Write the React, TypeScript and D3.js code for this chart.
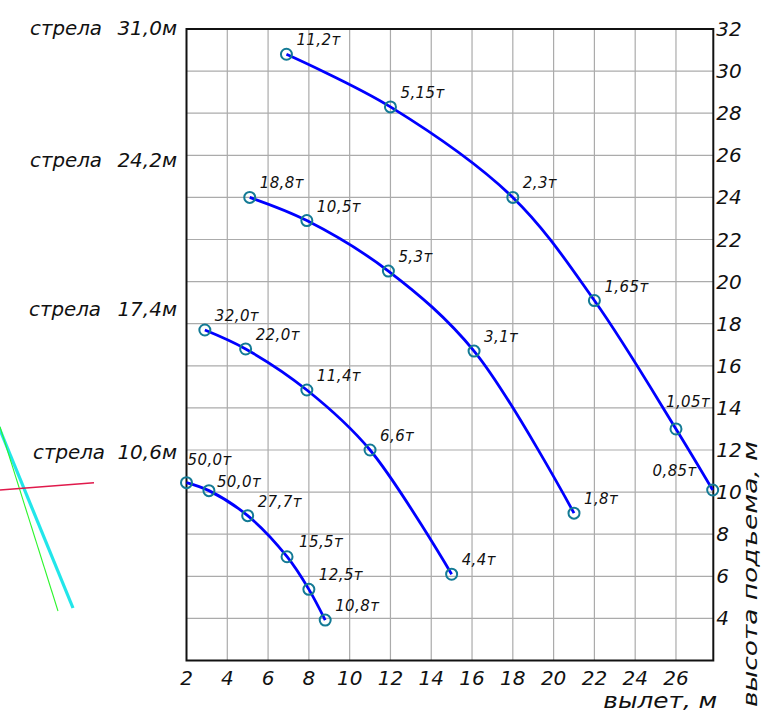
import React from "react";
import * as d3 from "d3";

// ---- data ----
const boomNames = ["стрела", "стрела", "стрела", "стрела"];
const boomLengths = ["31,0м", "24,2м", "17,4м", "10,6м"];

const reachA = [6.9, 12.0, 18.0, 22.0, 26.0, 27.8];
const heightA = [30.8, 28.3, 24.0, 19.1, 13.0, 10.1];
const loadA = ["11,2т", "5,15т", "2,3т", "1,65т", "1,05т", "0,85т"];

const reachB = [5.1, 7.9, 11.9, 16.1, 21.0];
const heightB = [24.0, 22.9, 20.5, 16.7, 9.0];
const loadB = ["18,8т", "10,5т", "5,3т", "3,1т", "1,8т"];

const reachC = [2.9, 4.9, 7.9, 11.0, 15.0];
const heightC = [17.7, 16.8, 14.85, 12.0, 6.1];
const loadC = ["32,0т", "22,0т", "11,4т", "6,6т", "4,4т"];

const reachD = [2.0, 3.1, 5.0, 6.93, 8.0, 8.8];
const heightD = [10.45, 10.07, 8.88, 6.93, 5.38, 3.92];
const loadD = ["50,0т", "50,0т", "27,7т", "15,5т", "12,5т", "10,8т"];

const xTicks = [2, 4, 6, 8, 10, 12, 14, 16, 18, 20, 22, 24, 26];
const yTicks = [4, 6, 8, 10, 12, 14, 16, 18, 20, 22, 24, 26, 28, 30, 32];
const xTitle = "вылет,  м";
const yTitle = "высота  подъема,  м";

// ---- layout / style ----
const W = 763;
const H = 712;
const left = 186.5;
const right = 713.3;
const top = 29;
const bottom = 660.5;
const FONT = "'DejaVu Sans', sans-serif";
const LINE = "#0000ff";
const MARK = "#137a95";
const GRID = "#ababab";

// label offsets (dx, dy) per series/point; default is (+10, -9)
const labelOffsets: Record<string, [number, number, string?]> = {
  "0-4": [-10, -22],
  "0-5": [-16, -14, "end"],
  "3-0": [1, -18],
  "3-1": [8, -4],
  "3-3": [12, -10],
};
const boomLabelY = [35, 167, 316, 459];
const boomNameX = [30, 30, 29, 33];

export default function App() {
  const x = d3.scaleLinear().domain([2, 27.83]).range([left, right]);
  const y = d3.scaleLinear().domain([2, 32]).range([bottom, top]);

  const series = [
    { xs: reachA, ys: heightA, loads: loadA },
    { xs: reachB, ys: heightB, loads: loadB },
    { xs: reachC, ys: heightC, loads: loadC },
    { xs: reachD, ys: heightD, loads: loadD },
  ];

  const line = d3
    .line<[number, number]>()
    .x((d) => x(d[0]))
    .y((d) => y(d[1]))
    .curve(d3.curveCatmullRom.alpha(0.5));

  const gridX = d3.range(4, 27, 2);
  const gridY = d3.range(4, 32, 2);

  return (
    <svg
      width={W}
      height={H}
      viewBox={`0 0 ${W} ${H}`}
      style={{ position: "absolute", left: 0, top: 0, display: "block", background: "#fff" }}
    >
      <rect x={0} y={0} width={W} height={H} fill="#fff" />

      {/* decorative construction lines on the left */}
      <line x1={-2} y1={425} x2={73} y2={608} stroke="#22e6ea" strokeWidth={3.2} />
      <line x1={0} y1={427} x2={58} y2={611} stroke="#2cf52c" strokeWidth={1.1} />
      <line x1={0} y1={490} x2={94} y2={482.7} stroke="#e0194b" strokeWidth={1.6} />

      {/* grid */}
      {gridX.map((v) => (
        <line key={"gx" + v} x1={x(v)} x2={x(v)} y1={top} y2={bottom} stroke={GRID} strokeWidth={1.2} />
      ))}
      {gridY.map((v) => (
        <line key={"gy" + v} x1={left} x2={right} y1={y(v)} y2={y(v)} stroke={GRID} strokeWidth={1.2} />
      ))}

      {/* frame */}
      <rect x={left} y={top} width={right - left} height={bottom - top} fill="none" stroke="#111" strokeWidth={2} />

      {/* curves */}
      {series.map((s, si) => {
        const pts: [number, number][] = s.xs.map((v, i) => [v, s.ys[i]]);
        return (
          <g key={"s" + si}>
            <path d={line(pts) || ""} fill="none" stroke={LINE} strokeWidth={2.8} />
            {pts.map((p, i) => (
              <circle key={i} cx={x(p[0])} cy={y(p[1])} r={5.5} fill="none" stroke={MARK} strokeWidth={2} />
            ))}
            {pts.map((p, i) => {
              const off = labelOffsets[`${si}-${i}`] || [10, -9];
              return (
                <text
                  key={"l" + i}
                  x={x(p[0]) + off[0]}
                  y={y(p[1]) + off[1]}
                  textAnchor={(off[2] as any) || "start"}
                  fontFamily={FONT}
                  fontStyle="italic"
                  fontSize={15}
                  letterSpacing={0.4}
                  fill="#111"
                >
                  {s.loads[i]}
                </text>
              );
            })}
          </g>
        );
      })}

      {/* boom labels */}
      {boomNames.map((n, i) => (
        <g key={"b" + i}>
          <text
            x={boomNameX[i]}
            y={boomLabelY[i]}
            fontFamily={FONT}
            fontStyle="italic"
            fontSize={20}
            textLength={72}
            lengthAdjust="spacingAndGlyphs"
            fill="#111"
          >
            {n}
          </text>
          <text
            x={177}
            y={boomLabelY[i]}
            textAnchor="end"
            fontFamily={FONT}
            fontStyle="italic"
            fontSize={20}
            fill="#111"
          >
            {boomLengths[i]}
          </text>
        </g>
      ))}

      {/* x tick labels */}
      {xTicks.map((v) => (
        <text
          key={"xt" + v}
          x={x(v)}
          y={685}
          textAnchor="middle"
          fontFamily={FONT}
          fontStyle="italic"
          fontSize={20}
          fill="#111"
        >
          {v}
        </text>
      ))}

      {/* y tick labels (right) */}
      {yTicks.map((v) => (
        <text
          key={"yt" + v}
          x={right + 3}
          y={y(v) + 7}
          textAnchor="start"
          fontFamily={FONT}
          fontStyle="italic"
          fontSize={20}
          fill="#111"
        >
          {v}
        </text>
      ))}

      {/* axis titles */}
      <text
        x={right + 4}
        y={708}
        textAnchor="end"
        fontFamily={FONT}
        fontStyle="italic"
        fontSize={21}
        textLength={114}
        lengthAdjust="spacingAndGlyphs"
        fill="#111"
      >
        {xTitle}
      </text>
      <text
        transform={`translate(757, 707) rotate(-90)`}
        x={0}
        y={0}
        textAnchor="start"
        fontFamily={FONT}
        fontStyle="italic"
        fontSize={20}
        textLength={266}
        lengthAdjust="spacingAndGlyphs"
        fill="#111"
      >
        {yTitle}
      </text>
    </svg>
  );
}
